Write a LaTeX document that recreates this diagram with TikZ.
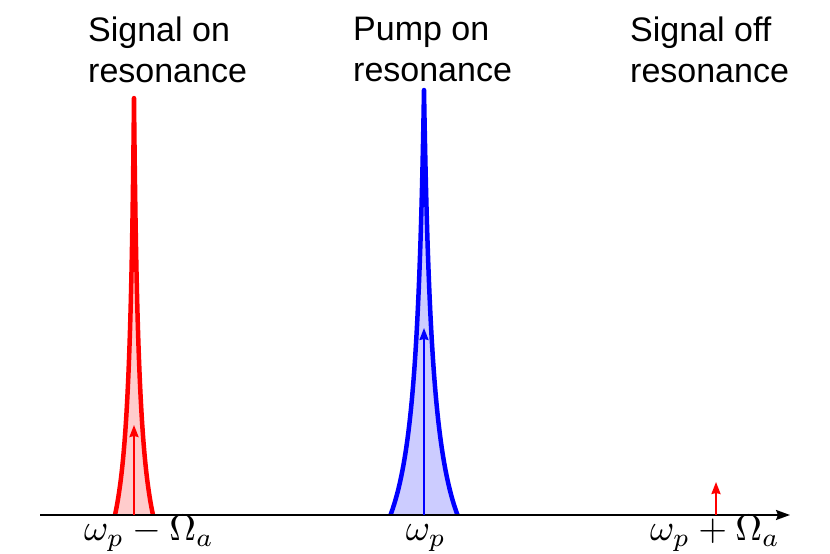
\documentclass[tikz,border=0pt]{standalone}
\usepackage[no-math]{fontspec}
\newfontfamily\labelfont{Liberation Sans}
\usetikzlibrary{arrows.meta}

% one resonance line, centred at (0,0), height 425
\newcommand{\lineshape}{plot[domain=-33.5:33.5, samples=201] (\x, {4853/(abs(\x)+9) - 114.2})}

\begin{document}
\begin{tikzpicture}[x=1pt, y=1pt,
    peak/.style={line width=4.5pt, line join=round},
    field/.style={line width=2pt, -{Stealth[length=12pt, width=9pt, inset=1pt]}},
    caption/.style={anchor=north west, inner sep=0pt, align=left, font=\labelfont\fontsize{34}{41}\selectfont},
    freq/.style={anchor=base, inner sep=0pt, scale=3.7, transform shape}
]
    \useasboundingbox (0,0) rectangle (830,554);

    % Signal on resonance
    \begin{scope}[shift={(134,39)}, xscale=0.567, yscale=0.981]
        \fill[red!20] \lineshape -- cycle;
        \draw[peak, red] \lineshape;
    \end{scope}

    % Pump on resonance
    \begin{scope}[shift={(424,39)}]
        \fill[blue!20] \lineshape -- cycle;
        \draw[peak, blue] \lineshape;
    \end{scope}

    % frequency axis
    \coordinate (axstart) at (40,39);
    \coordinate (axend) at (790,39);
    \draw[line width=2pt, -{Stealth[length=14pt, width=10pt, inset=2pt]}] (axstart) -- (axend);

    % field amplitudes
    \coordinate (sigon) at (134,39);
    \coordinate (sigontip) at (134,129);
    \coordinate (pump) at (424,39);
    \coordinate (pumptip) at (424,226);
    \coordinate (sigoff) at (716,39);
    \coordinate (sigofftip) at (716,72);
    \draw[field, red] (sigon) -- (sigontip);
    \draw[field, blue] (pump) -- (pumptip);
    \draw[field, red] (sigoff) -- (sigofftip);

    % captions
    \node[caption] (capsigon) at (88,537) {Signal on\\resonance};
    \node[caption] (cappump) at (353,537) {Pump on\\resonance};
    \node[caption] (capsigoff) at (630,537) {Signal off\\resonance};

    % frequencies
    \node[freq] (fsigon) at (149,13) {$\omega_p-\Omega_a$};
    \node[freq] (fpump) at (426,13) {$\omega_p$};
    \node[freq] (fsigoff) at (715,13) {$\omega_p+\Omega_a$};

\end{tikzpicture}
\end{document}
